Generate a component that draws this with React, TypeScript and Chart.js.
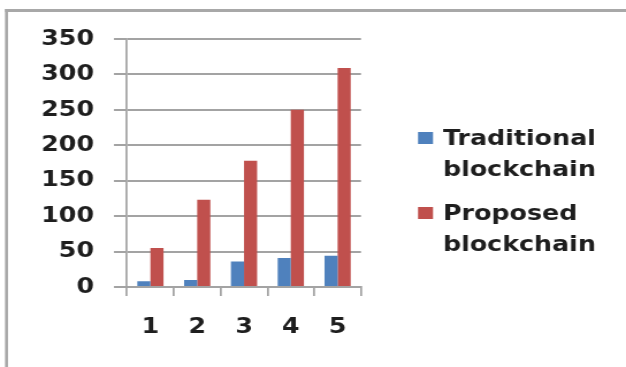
import React, { useEffect, useRef } from "react";
import { Chart, registerables } from "chart.js";

Chart.register(...registerables);

const categories = ["1", "2", "3", "4", "5"];
const traditional = [8, 10, 36, 41, 44];
const proposed = [55, 123, 178, 250, 309];
const seriesNames = [["Traditional", "blockchain"], ["Proposed", "blockchain"]];
const seriesColors = ["#4F81BD", "#C0504D"];
const yMax = 350;
const yStep = 50;

// The reference is a horizontally stretched screenshot: draw on a narrower
// canvas and display it at the full width.
const VIEW_W = 626;
const VIEW_H = 367;
const SX = 1.15;
const CANVAS_W = Math.round(VIEW_W / SX);
const sx = (x: number) => x / (VIEW_W / CANVAS_W);

const FONT = "'DejaVu Sans', Verdana, sans-serif";
const TEXT = "#1e1e1e";
const GRID = "#a3a3a3";

const framePlugin = {
  id: "frame",
  beforeDraw(chart: any) {
    const ctx = chart.ctx;
    ctx.save();
    ctx.fillStyle = "#ffffff";
    ctx.fillRect(0, 0, chart.width, chart.height);
    ctx.strokeStyle = "#a8a8a8";
    ctx.lineWidth = 3;
    ctx.beginPath();
    ctx.moveTo(sx(5), 10.5);
    ctx.lineTo(chart.width + 2, 10.5);
    ctx.stroke();
    ctx.lineWidth = sx(3);
    ctx.beginPath();
    ctx.moveTo(sx(6.5), chart.height + 2);
    ctx.lineTo(sx(6.5), 9);
    ctx.stroke();
    ctx.restore();
  },
};

const legendPlugin = {
  id: "sideLegend",
  afterDraw(chart: any) {
    const ctx = chart.ctx;
    ctx.save();
    ctx.font = `bold 22px ${FONT}`;
    ctx.textBaseline = "alphabetic";
    ctx.textAlign = "left";
    chart.data.datasets.forEach((ds: any, i: number) => {
      const base = 145 + i * 75;
      ctx.fillStyle = ds.backgroundColor;
      ctx.fillRect(sx(418), base - 13, sx(15), 12);
      ctx.fillStyle = TEXT;
      const lines: string[] = seriesNames[i];
      lines.forEach((ln, j) => ctx.fillText(ln, sx(443), base + j * 31));
    });
    ctx.restore();
  },
};

export default function App() {
  const ref = useRef<HTMLCanvasElement | null>(null);
  useEffect(() => {
    document.body.style.margin = "0";
    const canvas = ref.current!;
    const chart = new Chart(canvas, {
      type: "bar",
      data: {
        labels: categories,
        datasets: [
          { label: seriesNames[0].join(" "), data: traditional, backgroundColor: seriesColors[0] },
          { label: seriesNames[1].join(" "), data: proposed, backgroundColor: seriesColors[1] },
        ],
      },
      options: {
        animation: false,
        responsive: false,
        devicePixelRatio: 1,
        layout: { padding: { left: 0, top: 39, right: CANVAS_W - sx(361), bottom: 0 } },
        datasets: { bar: { categoryPercentage: 0.56, barPercentage: 1.0 } },
        plugins: { legend: { display: false }, tooltip: { enabled: false } },
        scales: {
          x: {
            afterFit(scale: any) { scale.height = 80; },
            grid: { drawOnChartArea: false, drawTicks: true, tickLength: 9, color: GRID, lineWidth: sx(2) },
            border: { color: GRID, width: 2 },
            ticks: { font: { family: FONT, size: 22, weight: "bold" }, color: TEXT, padding: 18 },
          },
          y: {
            min: 0,
            max: yMax,
            afterFit(scale: any) { scale.width = sx(127); },
            grid: { color: GRID, lineWidth: 2, tickLength: sx(13) },
            border: { color: GRID, width: sx(2) },
            ticks: { stepSize: yStep, font: { family: FONT, size: 22, weight: "bold" }, color: TEXT, padding: sx(20) },
          },
        },
      },
      plugins: [framePlugin, legendPlugin],
    });
    return () => chart.destroy();
  }, []);
  return (
    <canvas
      ref={ref}
      width={CANVAS_W}
      height={VIEW_H}
      style={{ display: "block", width: `${VIEW_W}px`, height: `${VIEW_H}px` }}
    />
  );
}
